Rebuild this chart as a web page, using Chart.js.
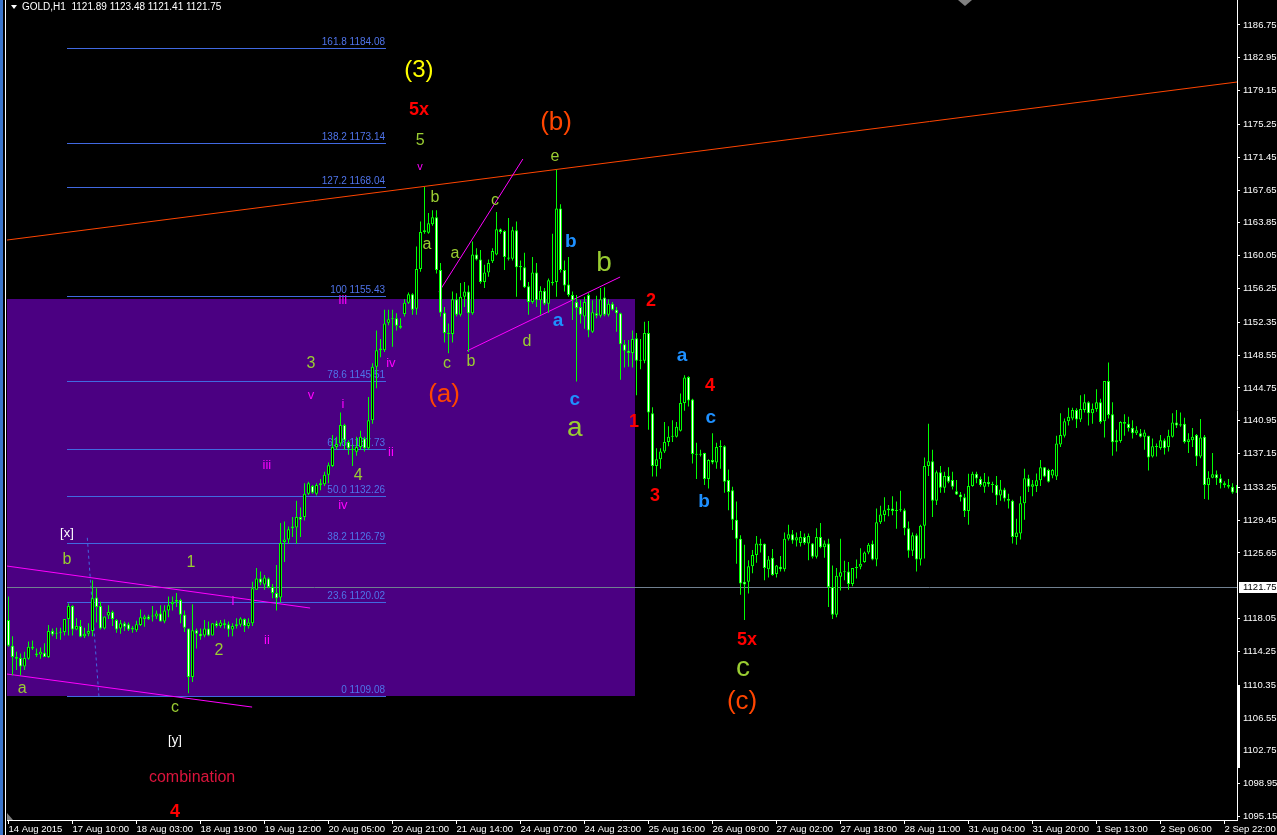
<!DOCTYPE html>
<html>
<head>
<meta charset="utf-8">
<title>GOLD,H1</title>
<script src="https://cdn.jsdelivr.net/npm/chart.js@4.4.1/dist/chart.umd.min.js"></script>
<style>
  html, body { margin: 0; padding: 0; background: #000; overflow: hidden; }
  #grafico { display: block; }
</style>
</head>
<body>
<canvas id="grafico" width="1277" height="835"></canvas>
<script>
// GOLD H1 candles, 14 Aug - 2 Sep 2015 (one value per hourly bar)
var opens = [
  1117.9,1114.9,1113.6,1113.5,1112.5,1113.4,1114.8,1114.0,1113.9,1114.1,
  1113.6,1116.6,1116.3,1116.4,1116.5,1118.0,1119.5,1116.8,1117.2,1116.0,
  1116.3,1116.6,1120.5,1119.5,1116.9,1118.4,1118.8,1117.9,1116.9,1117.5,
  1117.4,1116.8,1116.7,1117.3,1118.0,1118.3,1118.3,1118.3,1118.65,1117.7,
  1119.0,1119.7,1120.0,1120.2,1118.5,1116.9,1111.3,1116.7,1116.3,1116.1,
  1116.9,1116.1,1117.5,1117.2,1117.5,1117.4,1116.8,1117.2,1117.35,1118.0,
  1117.2,1117.5,1121.4,1122.7,1122.0,1122.7,1121.7,1121.0,1120.5,1126.9,
  1127.2,1128.5,1128.6,1129.8,1129.8,1132.5,1133.4,1132.5,1133.5,1133.6,
  1134.7,1135.7,1137.9,1138.3,1140.45,1138.5,1137.7,1137.35,1137.9,1138.9,
  1137.75,1141.0,1147.2,1149.1,1149.1,1152.3,1152.7,1152.8,1151.95,1153.3,
  1154.6,1155.6,1153.9,1158.5,1162.8,1162.7,1163.7,1164.5,1158.4,1153.45,
  1151.1,1151.0,1155.0,1153.2,1155.3,1155.9,1153.4,1160.2,1159.6,1157.0,
  1158.1,1159.4,1160.2,1163.1,1162.9,1159.85,1159.7,1163.0,1158.7,1158.7,
  1156.5,1154.7,1158.1,1154.9,1156.0,1154.5,1157.0,1157.0,1165.5,1158.4,
  1156.7,1155.5,1154.7,1154.1,1153.0,1155.5,1151.25,1153.4,1153.1,1155.2,
  1153.2,1154.5,1153.8,1153.4,1149.8,1149.05,1148.8,1150.5,1147.9,1147.9,
  1151.1,1141.8,1135.7,1136.5,1137.4,1138.5,1139.1,1139.1,1139.8,1143.0,
  1146.0,1143.4,1137.1,1137.05,1137.2,1134.2,1136.4,1136.1,1137.9,1138.0,
  1134.1,1132.9,1129.5,1127.3,1122.3,1122.3,1124.1,1125.4,1126.7,1126.7,
  1123.75,1125.1,1123.2,1124.05,1123.75,1127.3,1127.8,1127.1,1126.8,1127.5,
  1126.75,1126.75,1125.2,1127.5,1126.3,1126.75,1121.7,1118.5,1122.9,1123.4,
  1123.5,1122.05,1123.9,1124.05,1124.6,1125.7,1126.7,1124.9,1129.2,1130.05,
  1130.6,1130.8,1130.5,1130.6,1130.6,1128.5,1125.9,1127.7,1124.9,1128.8,
  1135.7,1136.25,1131.7,1135.0,1133.2,1134.55,1134.1,1132.8,1132.4,1132.1,
  1130.5,1133.4,1134.8,1134.2,1133.3,1133.85,1133.6,1133.5,1132.3,1133.0,
  1131.9,1131.7,1127.5,1127.9,1131.4,1134.3,1133.3,1133.4,1134.05,1135.55,
  1135.25,1134.6,1134.5,1138.2,1139.2,1140.9,1141.2,1142.2,1141.1,1142.2,
  1143.1,1141.8,1142.3,1143.1,1140.9,1145.55,1141.7,1138.45,1138.6,1140.8,
  1140.6,1140.15,1139.5,1139.5,1139.1,1139.2,1136.8,1138.0,1137.8,1138.7,
  1137.9,1139.1,1140.75,1140.4,1140.6,1138.5,1138.7,1139.3,1136.8,1139.1,
  1133.5,1134.35,1134.75,1134.3,1133.7,1133.5,1133.3,1132.7
];
var highs = [
  1120.6,1116.0,1114.2,1114.0,1114.2,1115.4,1115.5,1114.6,1114.7,1115.2,
  1117.3,1116.9,1117.0,1117.0,1118.0,1119.8,1119.6,1118.1,1117.9,1117.0,
  1117.5,1122.5,1121.55,1120.0,1118.3,1119.6,1119.0,1118.0,1117.9,1117.7,
  1117.6,1117.2,1117.8,1119.1,1118.5,1118.5,1119.5,1119.0,1119.6,1119.6,
  1120.6,1120.6,1121.0,1120.35,1119.0,1116.9,1119.7,1116.9,1116.9,1117.9,
  1117.7,1117.5,1117.8,1117.9,1117.95,1117.7,1117.5,1118.1,1118.2,1118.1,
  1118.1,1122.3,1123.9,1123.5,1123.1,1122.8,1122.05,1124.25,1129.1,1129.3,
  1128.7,1129.8,1131.7,1130.9,1133.7,1133.9,1133.5,1133.7,1134.2,1135.05,
  1136.1,1139.3,1139.1,1141.9,1140.6,1138.7,1138.2,1139.1,1139.8,1139.1,
  1143.7,1147.6,1151.4,1150.4,1153.8,1153.8,1153.8,1153.4,1152.8,1155.0,
  1155.8,1155.7,1161.1,1164.0,1168.0,1165.0,1165.3,1165.3,1159.2,1154.1,
  1152.2,1155.9,1155.7,1156.9,1157.0,1156.6,1161.7,1160.9,1160.7,1159.0,
  1159.6,1160.9,1165.1,1163.2,1163.0,1164.4,1163.4,1164.0,1159.5,1160.4,
  1157.0,1159.9,1159.2,1156.5,1156.3,1157.4,1162.6,1170.0,1166.0,1159.5,
  1159.9,1155.9,1155.5,1154.9,1155.3,1155.7,1154.9,1155.4,1156.3,1156.4,
  1155.0,1154.7,1154.1,1153.45,1150.3,1150.3,1151.4,1151.1,1150.4,1152.4,
  1152.5,1142.5,1137.75,1137.75,1140.8,1140.3,1141.0,1140.8,1144.1,1146.2,
  1146.1,1143.5,1138.4,1137.6,1137.25,1136.5,1139.5,1138.4,1138.7,1138.1,
  1135.3,1133.3,1131.6,1127.7,1126.6,1124.8,1126.0,1127.6,1127.3,1126.75,
  1125.3,1126.1,1124.25,1125.3,1128.0,1128.9,1128.3,1128.0,1128.2,1127.9,
  1127.9,1126.8,1128.5,1129.1,1127.1,1127.3,1124.2,1123.9,1127.3,1124.75,
  1124.6,1123.9,1124.9,1126.2,1125.8,1126.8,1127.1,1130.8,1131.1,1132.1,
  1131.2,1132.2,1131.6,1132.85,1130.8,1129.3,1128.0,1127.9,1128.9,1136.7,
  1140.6,1137.6,1135.2,1135.7,1135.05,1135.55,1135.05,1134.1,1132.7,1132.5,
  1134.8,1135.05,1135.05,1134.5,1134.9,1134.5,1133.9,1134.55,1134.1,1133.2,
  1132.5,1131.8,1129.6,1132.2,1135.4,1134.7,1134.1,1134.85,1136.4,1135.6,
  1135.4,1135.35,1139.2,1141.8,1141.2,1142.45,1142.45,1142.4,1143.9,1144.0,
  1143.2,1142.95,1144.6,1143.5,1145.55,1147.7,1143.1,1139.9,1140.9,1141.7,
  1141.4,1141.0,1140.3,1140.0,1139.9,1139.2,1138.9,1138.3,1139.3,1138.9,
  1139.9,1141.8,1142.2,1141.9,1141.3,1139.5,1140.1,1139.4,1141.15,1139.3,
  1135.1,1137.2,1135.2,1134.75,1133.95,1134.2,1133.7,1133.5
];
var lows = [
  1114.8,1111.5,1112.1,1111.5,1112.1,1113.3,1114.4,1113.6,1113.4,1113.6,
  1113.5,1116.0,1115.7,1115.6,1116.1,1116.1,1116.1,1116.7,1115.9,1115.8,
  1116.0,1116.0,1117.6,1116.8,1116.8,1118.0,1117.2,1116.4,1116.3,1116.6,
  1116.6,1116.4,1116.5,1117.2,1117.1,1117.9,1117.7,1118.0,1117.7,1117.5,
  1118.2,1119.0,1119.4,1117.5,1116.5,1109.4,1110.7,1114.6,1115.6,1115.9,
  1116.0,1116.1,1117.0,1117.0,1116.9,1115.95,1116.0,1116.9,1117.1,1116.5,
  1116.9,1117.2,1121.4,1121.9,1121.4,1121.55,1120.4,1119.0,1119.9,1124.6,
  1126.7,1127.5,1126.7,1127.5,1129.4,1132.35,1132.5,1132.3,1132.9,1133.4,
  1133.7,1135.6,1137.6,1138.0,1137.6,1137.0,1135.7,1136.9,1137.6,1137.4,
  1137.6,1140.6,1144.7,1148.3,1148.9,1152.0,1149.5,1151.4,1151.6,1153.0,
  1154.45,1153.2,1153.2,1158.2,1162.6,1162.6,1163.5,1158.0,1153.0,1150.0,
  1148.75,1150.0,1153.0,1153.0,1154.1,1148.9,1153.2,1159.5,1156.8,1156.3,
  1157.6,1159.2,1160.1,1162.6,1158.4,1159.5,1159.5,1155.3,1157.2,1156.3,
  1153.2,1154.5,1154.1,1153.2,1154.3,1153.45,1156.6,1155.3,1158.1,1155.9,
  1155.3,1152.6,1145.5,1152.2,1151.6,1150.6,1151.1,1152.8,1152.9,1153.05,
  1153.0,1153.7,1151.25,1145.7,1147.1,1147.2,1147.1,1143.9,1146.9,1147.6,
  1139.9,1134.5,1134.5,1135.4,1137.2,1138.0,1138.5,1139.0,1139.7,1142.1,
  1142.6,1136.0,1134.2,1136.8,1133.5,1133.1,1135.9,1135.4,1135.4,1132.6,
  1130.6,1128.3,1124.4,1120.8,1117.9,1120.96,1123.3,1124.5,1125.7,1122.5,
  1122.8,1123.0,1122.8,1123.5,1123.5,1127.1,1126.7,1126.4,1126.4,1126.6,
  1124.8,1125.0,1125.0,1126.2,1125.1,1119.4,1118.0,1118.2,1121.3,1122.5,
  1121.4,1121.8,1122.7,1123.75,1124.5,1125.5,1124.8,1124.1,1129.0,1129.3,
  1129.9,1130.0,1128.45,1130.4,1127.7,1125.1,1125.3,1123.5,1124.2,1125.0,
  1134.55,1129.8,1131.2,1132.6,1132.6,1133.7,1133.0,1132.35,1131.6,1129.8,
  1128.9,1133.3,1133.7,1133.3,1132.6,1133.3,1132.6,1131.2,1131.7,1131.6,
  1130.8,1126.75,1126.6,1127.2,1129.5,1132.7,1132.2,1132.7,1133.4,1134.4,
  1133.8,1134.3,1134.1,1137.9,1139.0,1140.4,1141.0,1140.1,1140.8,1141.9,
  1140.4,1140.6,1142.0,1140.6,1139.0,1141.2,1136.9,1137.4,1138.4,1139.2,
  1139.7,1138.9,1139.3,1139.0,1137.6,1135.2,1136.7,1136.8,1137.6,1137.05,
  1137.4,1139.0,1140.1,1140.25,1138.3,1137.2,1137.9,1135.7,1136.6,1131.9,
  1131.8,1134.3,1133.5,1133.1,1133.2,1133.1,1132.5,1132.6
];
var closes = [
  1114.9,1113.6,1113.4,1112.5,1113.5,1114.8,1114.6,1113.8,1114.2,1113.6,
  1116.6,1116.2,1116.4,1116.5,1118.0,1119.5,1116.8,1117.2,1115.95,1116.3,
  1116.6,1120.4,1119.4,1116.9,1118.3,1118.8,1118.0,1116.8,1117.5,1117.1,
  1116.8,1117.0,1117.4,1118.2,1118.3,1118.0,1118.3,1118.65,1117.7,1119.0,
  1119.6,1120.0,1120.2,1118.5,1117.0,1111.3,1116.7,1116.3,1116.0,1116.9,
  1116.1,1117.5,1117.2,1117.6,1117.3,1116.8,1117.2,1117.4,1118.05,1117.2,
  1117.6,1121.55,1122.7,1122.2,1122.8,1121.7,1121.0,1120.4,1126.8,1127.2,
  1128.4,1128.7,1129.8,1129.5,1132.5,1133.7,1132.6,1133.5,1133.7,1134.7,
  1135.8,1137.9,1138.25,1140.45,1138.7,1137.75,1137.55,1137.9,1139.1,1137.75,
  1141.0,1147.2,1149.1,1149.3,1152.2,1152.7,1152.8,1151.95,1151.7,1154.6,
  1155.6,1153.8,1158.5,1162.8,1163.0,1163.8,1164.5,1158.4,1153.45,1151.1,
  1151.0,1155.0,1153.2,1155.3,1155.9,1153.4,1160.2,1159.6,1157.0,1158.1,
  1159.2,1160.6,1163.1,1162.8,1159.9,1159.7,1163.0,1158.7,1158.85,1156.4,
  1154.7,1158.1,1154.9,1156.0,1154.5,1157.2,1156.85,1165.5,1158.4,1156.6,
  1155.5,1154.9,1154.0,1153.2,1154.7,1151.4,1153.5,1153.1,1155.0,1153.2,
  1154.5,1153.8,1153.4,1149.8,1149.05,1148.8,1150.4,1147.9,1148.0,1151.1,
  1141.9,1135.7,1136.5,1137.4,1138.5,1139.1,1139.2,1140.25,1143.0,1145.95,
  1143.3,1137.1,1137.0,1137.0,1134.2,1136.4,1136.1,1137.9,1138.0,1133.9,
  1132.7,1129.5,1127.3,1122.1,1122.0,1124.1,1125.4,1126.75,1126.5,1123.9,
  1124.9,1123.1,1124.2,1123.75,1127.3,1127.8,1127.1,1127.45,1127.5,1126.8,
  1127.6,1125.2,1127.5,1126.3,1126.75,1121.7,1118.5,1123.0,1123.4,1123.5,
  1122.05,1123.9,1123.95,1124.4,1125.7,1126.6,1124.9,1129.2,1130.1,1130.6,
  1130.8,1130.5,1130.6,1130.6,1128.5,1125.9,1127.7,1124.9,1128.8,1135.7,
  1136.25,1131.7,1135.0,1133.2,1134.55,1133.9,1133.3,1132.4,1132.1,1130.5,
  1133.4,1134.8,1134.25,1133.5,1133.85,1133.6,1133.5,1132.3,1133.0,1131.96,
  1131.7,1127.5,1128.0,1131.4,1134.3,1133.3,1133.6,1134.05,1135.55,1134.5,
  1133.9,1135.25,1138.3,1139.3,1140.9,1141.4,1142.2,1141.1,1142.3,1143.1,
  1141.8,1142.3,1143.1,1140.8,1145.55,1141.6,1138.45,1138.7,1140.8,1140.6,
  1140.1,1139.5,1139.85,1139.1,1139.6,1136.7,1138.0,1137.9,1138.7,1137.75,
  1139.2,1140.75,1140.4,1140.55,1138.5,1138.8,1139.1,1136.8,1139.0,1133.5,
  1134.35,1134.75,1134.3,1133.7,1133.5,1133.3,1132.65,1132.65
];

var timeLabels = ['14 Aug 2015','17 Aug 10:00','18 Aug 03:00','18 Aug 19:00','19 Aug 12:00',
  '20 Aug 05:00','20 Aug 21:00','21 Aug 14:00','24 Aug 07:00','24 Aug 23:00',
  '25 Aug 16:00','26 Aug 09:00','27 Aug 02:00','27 Aug 18:00','28 Aug 11:00',
  '31 Aug 04:00','31 Aug 20:00','1 Sep 13:00','2 Sep 06:00','2 Sep 22:00'];
var timeLabelBars = [0,16,32,48,64,80,96,112,128,144,160,176,192,208,224,240,256,272,288,304];

var priceTicks = [1186.75,1182.95,1179.15,1175.25,1171.45,1167.65,1163.85,1160.05,1156.25,
  1152.35,1148.55,1144.75,1140.95,1137.15,1133.25,1129.45,1125.65,1118.05,1114.25,
  1110.35,1106.55,1102.75,1098.95,1095.15];
var precioActual = 1121.75;
var cabecera = 'GOLD,H1  1121.89 1123.48 1121.41 1121.75';

// fibonacci retracement
var fibLevels = ['161.8','138.2','127.2','100','78.6','61.8','50.0','38.2','23.6','0'];
var fibPrices = [1184.08,1173.14,1168.04,1155.43,1145.51,1137.73,1132.26,1126.79,1120.02,1109.08];
var fibBars = [14.6, 94.4];
var fibTrend = [[19.7, 1127.4], [22.6, 1109.08]];

// shaded box
var cajaBars = [-0.375, 156.6];
var cajaPrecios = [1109.0, 1155.0];

// trend lines: [bar1, price1, bar2, price2, kind]
var lineas = [
  [-0.375, 1161.86, 307.125, 1180.15, 'naranja'],
  [-0.375, 1124.13, 75.4, 1119.27, 'magenta'],
  [-0.375, 1111.63, 60.9, 1107.81, 'magenta'],
  [107.6, 1155.84, 128.6, 1171.24, 'magenta'],
  [114.6, 1149.02, 152.9, 1157.58, 'magenta']
];

// wave counts: [text, bar, price, kind]
var ondas = [
  ['(3)', 102.6, 1181.54, 'amarillo'],
  ['5x', 102.6, 1176.91, 'rojo'],
  ['5', 102.9, 1173.32, 'verde'],
  ['v', 102.9, 1170.31, 'magentaChico'],
  ['b', 106.6, 1166.72, 'verde'],
  ['a', 104.6, 1161.28, 'verde'],
  ['a', 111.6, 1160.24, 'verde'],
  ['c', 121.6, 1166.38, 'verde'],
  ['(b)', 136.9, 1175.40, 'naranja'],
  ['e', 136.6, 1171.47, 'verde'],
  ['b', 140.6, 1161.63, 'azul'],
  ['b', 148.9, 1159.20, 'verdeGrande'],
  ['a', 137.4, 1152.49, 'azul'],
  ['d', 129.6, 1150.06, 'verde'],
  ['c', 109.6, 1147.51, 'verde'],
  ['b', 115.6, 1147.74, 'verde'],
  ['(a)', 108.9, 1143.92, 'naranja'],
  ['c', 141.6, 1143.34, 'azul'],
  ['a', 141.6, 1140.10, 'verdeGrande'],
  ['[x]', 14.6, 1127.95, 'blanco'],
  ['b', 14.6, 1124.83, 'verde'],
  ['1', 45.6, 1124.48, 'verde'],
  ['2', 52.6, 1114.29, 'verde'],
  ['a', 3.4, 1109.90, 'verde'],
  ['c', 41.6, 1107.70, 'verde'],
  ['[y]', 41.6, 1103.99, 'blanco'],
  ['combination', 45.9, 1099.60, 'carmesi'],
  ['4', 41.6, 1095.66, 'rojo'],
  ['i', 56.1, 1120.08, 'magenta'],
  ['ii', 64.6, 1115.57, 'magenta'],
  ['iii', 64.6, 1135.82, 'magenta'],
  ['iv', 83.6, 1131.19, 'magenta'],
  ['v', 75.6, 1143.92, 'magenta'],
  ['3', 75.6, 1147.51, 'verde'],
  ['i', 83.6, 1142.88, 'magenta'],
  ['ii', 95.6, 1137.33, 'magenta'],
  ['4', 87.4, 1134.55, 'verde'],
  ['iii', 83.6, 1154.92, 'magenta'],
  ['iv', 95.6, 1147.63, 'magenta'],
  ['2', 160.6, 1154.80, 'rojo'],
  ['1', 156.4, 1140.80, 'rojo'],
  ['3', 161.6, 1132.23, 'rojo'],
  ['a', 168.4, 1148.44, 'azul'],
  ['4', 175.4, 1144.97, 'rojo'],
  ['c', 175.6, 1141.26, 'azul'],
  ['b', 173.9, 1131.54, 'azul'],
  ['5x', 184.6, 1115.57, 'rojo'],
  ['c', 183.6, 1112.32, 'verdeGrande'],
  ['(c)', 183.4, 1108.39, 'naranja']
];

var FUENTE = "'Liberation Sans', Arial, sans-serif";
var estilos = {
  amarillo: { color: '#ffff00', font: '24px' },
  rojo: { color: '#ff0000', font: 'bold 18px' },
  verde: { color: '#9acd32', font: '16px' },
  verdeGrande: { color: '#9acd32', font: '28px' },
  magenta: { color: '#ff00ff', font: '13px' },
  magentaChico: { color: '#ff00ff', font: '11px' },
  naranja: { color: '#ff4500', font: '26px' },
  azul: { color: '#1e90ff', font: 'bold 19px' },
  blanco: { color: '#ffffff', font: '13px' },
  carmesi: { color: '#dc143c', font: '16px' }
};
var coloresLinea = { naranja: '#ff4500', magenta: '#ff00ff' };

var mechas = [], cuerpos = [], fondoCuerpo = [];
for (var i = 0; i < opens.length; i++) {
  mechas.push({ x: i, y: [lows[i], highs[i]] });
  cuerpos.push({ x: i, y: [opens[i], closes[i]] });
  fondoCuerpo.push(closes[i] >= opens[i] ? '#000000' : '#ffffff');
}

function px(v) { return Math.round(v) + 0.5; }

var dibujos = {
  id: 'dibujos',
  beforeDatasetsDraw: function (chart) {
    var ctx = chart.ctx, a = chart.chartArea, sx = chart.scales.x, sy = chart.scales.y;
    ctx.save();
    ctx.beginPath();
    ctx.rect(a.left, a.top, a.right - a.left, a.bottom - a.top);
    ctx.clip();

    // purple box
    var x1 = sx.getPixelForValue(cajaBars[0]), x2 = sx.getPixelForValue(cajaBars[1]);
    var y1 = sy.getPixelForValue(cajaPrecios[1]), y2 = sy.getPixelForValue(cajaPrecios[0]);
    ctx.fillStyle = '#4b0082';
    ctx.fillRect(Math.round(x1), Math.round(y1), Math.round(x2 - x1), Math.round(y2 - y1));

    // fibo
    ctx.strokeStyle = '#4169e1';
    ctx.fillStyle = '#4f74ea';
    ctx.lineWidth = 1;
    ctx.font = '10px ' + FUENTE;
    ctx.textAlign = 'right';
    ctx.textBaseline = 'bottom';
    var fx1 = sx.getPixelForValue(fibBars[0]), fx2 = sx.getPixelForValue(fibBars[1]);
    fibPrices.forEach(function (p, k) {
      var yy = px(sy.getPixelForValue(p));
      ctx.beginPath();
      ctx.moveTo(Math.round(fx1), yy);
      ctx.lineTo(Math.round(fx2), yy);
      ctx.stroke();
      ctx.fillText(fibLevels[k] + ' ' + p.toFixed(2), Math.round(fx2) - 1, yy - 1);
    });
    ctx.setLineDash([3, 3]);
    ctx.beginPath();
    ctx.moveTo(sx.getPixelForValue(fibTrend[0][0]), sy.getPixelForValue(fibTrend[0][1]));
    ctx.lineTo(sx.getPixelForValue(fibTrend[1][0]), sy.getPixelForValue(fibTrend[1][1]));
    ctx.stroke();
    ctx.setLineDash([]);

    // bid line
    var yb = px(sy.getPixelForValue(precioActual));
    ctx.strokeStyle = '#708090';
    ctx.beginPath();
    ctx.moveTo(a.left, yb);
    ctx.lineTo(a.right, yb);
    ctx.stroke();

    lineas.forEach(function (l) {
      ctx.strokeStyle = coloresLinea[l[4]];
      ctx.beginPath();
      ctx.moveTo(sx.getPixelForValue(l[0]), sy.getPixelForValue(l[1]));
      ctx.lineTo(sx.getPixelForValue(l[2]), sy.getPixelForValue(l[3]));
      ctx.stroke();
    });
    ctx.restore();
  },
  afterDatasetsDraw: function (chart) {
    var ctx = chart.ctx, sx = chart.scales.x, sy = chart.scales.y;
    ctx.save();
    ctx.textAlign = 'center';
    ctx.textBaseline = 'middle';
    ondas.forEach(function (o) {
      var e = estilos[o[3]];
      ctx.font = e.font + ' ' + FUENTE;
      ctx.fillStyle = e.color;
      ctx.fillText(o[0], sx.getPixelForValue(o[1]), sy.getPixelForValue(o[2]));
    });
    ctx.restore();
  },
  afterDraw: function (chart) {
    var ctx = chart.ctx, a = chart.chartArea, sy = chart.scales.y;
    ctx.save();
    // current price box on the axis
    var yb = Math.round(sy.getPixelForValue(precioActual));
    ctx.fillStyle = '#ffffff';
    ctx.fillRect(a.right + 2, yb - 5, 40, 11);
    ctx.fillStyle = '#000000';
    ctx.font = '9.5px ' + FUENTE;
    ctx.textAlign = 'left';
    ctx.textBaseline = 'middle';
    ctx.fillText(precioActual.toFixed(2), a.right + 6, yb + 0.5);
    // scroll mark on the axis
    var s1 = sy.getPixelForValue(1110.35), s2 = sy.getPixelForValue(1100.75);
    ctx.fillStyle = '#ffffff';
    ctx.fillRect(a.right, Math.round(s1), 3, Math.round(s2 - s1));
    // window edge
    ctx.fillStyle = '#3a73c9';
    ctx.fillRect(0, 0, 3, chart.height);
    ctx.fillStyle = '#ffffff';
    ctx.fillRect(5, 0, 1, chart.height);
    // shift markers
    ctx.fillStyle = '#808080';
    ctx.beginPath();
    ctx.moveTo(958, 0); ctx.lineTo(972, 0); ctx.lineTo(965, 6); ctx.closePath(); ctx.fill();
    ctx.beginPath();
    ctx.moveTo(a.left, a.bottom - 7); ctx.lineTo(a.left, a.bottom); ctx.lineTo(a.left + 6, a.bottom); ctx.closePath(); ctx.fill();
    // header
    ctx.fillStyle = '#ffffff';
    ctx.beginPath();
    ctx.moveTo(11, 5); ctx.lineTo(17, 5); ctx.lineTo(14, 9); ctx.closePath(); ctx.fill();
    ctx.font = '10px ' + FUENTE;
    ctx.fillText(cabecera, 22, 7.5);
    ctx.restore();
  }
};

const ctx = document.getElementById('grafico');
const grafica = new Chart(ctx, {
  type: 'bar',
  data: {
    datasets: [
      {
        label: 'cuerpo',
        data: cuerpos,
        backgroundColor: fondoCuerpo,
        borderColor: '#00ff00',
        borderWidth: 1,
        borderSkipped: false,
        barThickness: 3,
        minBarLength: 1,
        inflateAmount: 0,
        grouped: false,
        order: 0
      },
      {
        label: 'mecha',
        data: mechas,
        backgroundColor: '#00ff00',
        borderWidth: 0,
        barThickness: 1,
        minBarLength: 1,
        inflateAmount: 0,
        grouped: false,
        order: 1
      }
    ]
  },
  options: {
    responsive: false,
    animation: false,
    devicePixelRatio: 1,
    layout: { padding: { left: 7, top: 0, right: 0, bottom: 0 } },
    plugins: { legend: { display: false }, tooltip: { enabled: false }, title: { display: false } },
    scales: {
      x: {
        type: 'linear',
        min: -0.375,
        max: 307.125,
        bounds: 'data',
        offset: false,
        grid: { display: true, offset: false, drawOnChartArea: false, drawTicks: true, tickLength: 4, color: '#ffffff' },
        border: { display: true, color: '#ffffff', width: 1 },
        ticks: {
          autoSkip: false, maxRotation: 0, align: 'start', padding: 0, color: '#ffffff',
          font: { family: FUENTE, size: 9.5 },
          callback: function (v) { return timeLabels[timeLabelBars.indexOf(v)]; }
        },
        afterBuildTicks: function (s) { s.ticks = timeLabelBars.map(function (v) { return { value: v }; }); },
        afterFit: function (s) { s.height = 15; s.paddingLeft = 0; s.paddingRight = 0; }
      },
      y: {
        position: 'right',
        min: 1094.74,
        max: 1189.64,
        bounds: 'data',
        grid: { display: true, drawOnChartArea: false, drawTicks: true, tickLength: 3, color: '#ffffff' },
        border: { display: true, color: '#ffffff', width: 1 },
        ticks: {
          autoSkip: false, padding: 3, color: '#ffffff',
          font: { family: FUENTE, size: 9.5 },
          callback: function (v) { return v.toFixed(2); }
        },
        afterBuildTicks: function (s) { s.ticks = priceTicks.map(function (v) { return { value: v }; }); },
        afterFit: function (s) { s.width = 40; s.paddingTop = 0; s.paddingBottom = 0; }
      }
    }
  },
  plugins: [dibujos]
});
</script>
</body>
</html>
